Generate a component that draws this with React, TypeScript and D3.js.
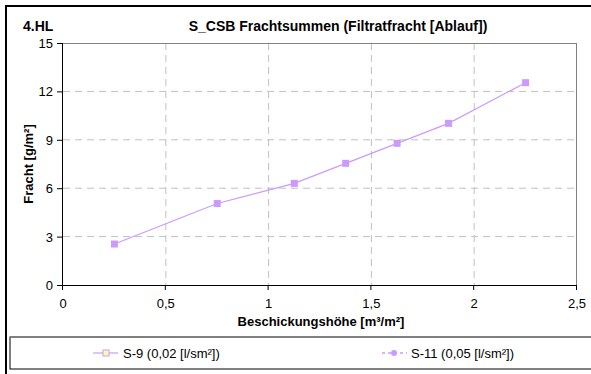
import React from "react";
import * as d3 from "d3";

const xS9 = [0.25, 0.75, 1.125, 1.375, 1.625, 1.875, 2.25];
const yS9 = [2.54, 5.05, 6.3, 7.54, 8.78, 10.02, 12.54];
const xTicks = [0, 0.5, 1, 1.5, 2, 2.5];
const xTickLabels = ["0", "0,5", "1", "1,5", "2", "2,5"];
const yTicks = [0, 3, 6, 9, 12, 15];
const legendLabels = ["S-9 (0,02 [l/sm²])", "S-11 (0,05 [l/sm²])"];

const W = 591, H = 374;
const font = "'Liberation Sans', Arial, sans-serif";
const purple = "#CC99FF";

export default function App() {
  const x = d3.scaleLinear().domain([0, 2.5]).range([63, 577]);
  const y = d3.scaleLinear().domain([0, 15]).range([285, 43]);
  const pts = xS9.map((v, i) => [x(v), y(yS9[i])] as [number, number]);
  const line = d3.line();
  return (
    <svg width={W} height={H} style={{ position: "absolute", left: 0, top: 0, background: "#fff" }} fontFamily={font}>
      <rect x={0} y={0} width={W} height={H} fill="#fff" />
      {/* outer frame */}
      <line x1={6} y1={6} x2={W} y2={6} stroke="#000" strokeWidth={2} />
      <line x1={6} y1={5} x2={6} y2={H} stroke="#000" strokeWidth={2} />
      {/* titles */}
      <text x={23} y={31} fontSize={14} fontWeight="bold">4.HL</text>
      <text x={338} y={31} fontSize={14} fontWeight="bold" textAnchor="middle">S_CSB Frachtsummen (Filtratfracht [Ablauf])</text>
      {/* grid */}
      {xTicks.slice(1, -1).map((t) => (
        <line key={"gx" + t} x1={x(t)} x2={x(t)} y1={y(15)} y2={y(0)} stroke="#c0c0c0" strokeDasharray="7,5" />
      ))}
      {yTicks.slice(1, -1).map((t) => (
        <line key={"gy" + t} x1={x(0)} x2={x(2.5)} y1={y(t)} y2={y(t)} stroke="#c0c0c0" strokeDasharray="7,5" />
      ))}
      {/* plot border top/right */}
      <line x1={x(0)} x2={x(2.5)} y1={y(15) + 0.5} y2={y(15) + 0.5} stroke="#808080" />
      <line x1={x(2.5) - 0.5} x2={x(2.5) - 0.5} y1={y(15)} y2={y(0)} stroke="#808080" />
      {/* axes */}
      <line x1={x(0) - 0.5} x2={x(0) - 0.5} y1={y(15)} y2={y(0)} stroke="#000" />
      <line x1={x(0)} x2={x(2.5)} y1={y(0) + 0.5} y2={y(0) + 0.5} stroke="#000" />
      {yTicks.map((t) => (
        <g key={"yt" + t}>
          <line x1={x(0) - 6} x2={x(0)} y1={y(t) + 0.5} y2={y(t) + 0.5} stroke="#000" />
          <text x={x(0) - 10} y={y(t) + 5} fontSize={13} textAnchor="end">{t}</text>
        </g>
      ))}
      {xTicks.map((t, i) => (
        <g key={"xt" + t}>
          <line x1={x(t) - 0.5} x2={x(t) - 0.5} y1={y(0)} y2={y(0) + 5} stroke="#000" />
          <text x={x(t)} y={y(0) + 23} fontSize={13} textAnchor="middle">{xTickLabels[i]}</text>
        </g>
      ))}
      <text x={321} y={326} fontSize={13} fontWeight="bold" textAnchor="middle">Beschickungshöhe [m³/m²]</text>
      <text transform={`translate(33,${y(7.5)}) rotate(-90)`} fontSize={13} fontWeight="bold" textAnchor="middle">Fracht [g/m²]</text>
      {/* series */}
      <path d={line(pts) || ""} fill="none" stroke={purple} strokeWidth={1.2} />
      {pts.map((p, i) => (
        <rect key={"m" + i} x={p[0] - 3.5} y={p[1] - 3.5} width={7} height={7} fill={purple} />
      ))}
      {/* legend */}
      <rect x={10} y={337} width={W} height={32} fill="#fff" stroke="#000" />
      <line x1={10} x2={W} y1={337} y2={337} stroke="#808080" strokeWidth={1.5} />
      <line x1={93} x2={118} y1={353} y2={353} stroke={purple} strokeWidth={1.2} />
      <rect x={103} y={350} width={6} height={6} fill="#ffff99" stroke={purple} />
      <text x={123} y={358} fontSize={13}>{legendLabels[0]}</text>
      <line x1={382} x2={407} y1={353} y2={353} stroke={purple} strokeWidth={1.5} strokeDasharray="3,3" />
      <circle cx={394} cy={353} r={3} fill={purple} />
      <text x={411} y={358} fontSize={13}>{legendLabels[1]}</text>
    </svg>
  );
}
